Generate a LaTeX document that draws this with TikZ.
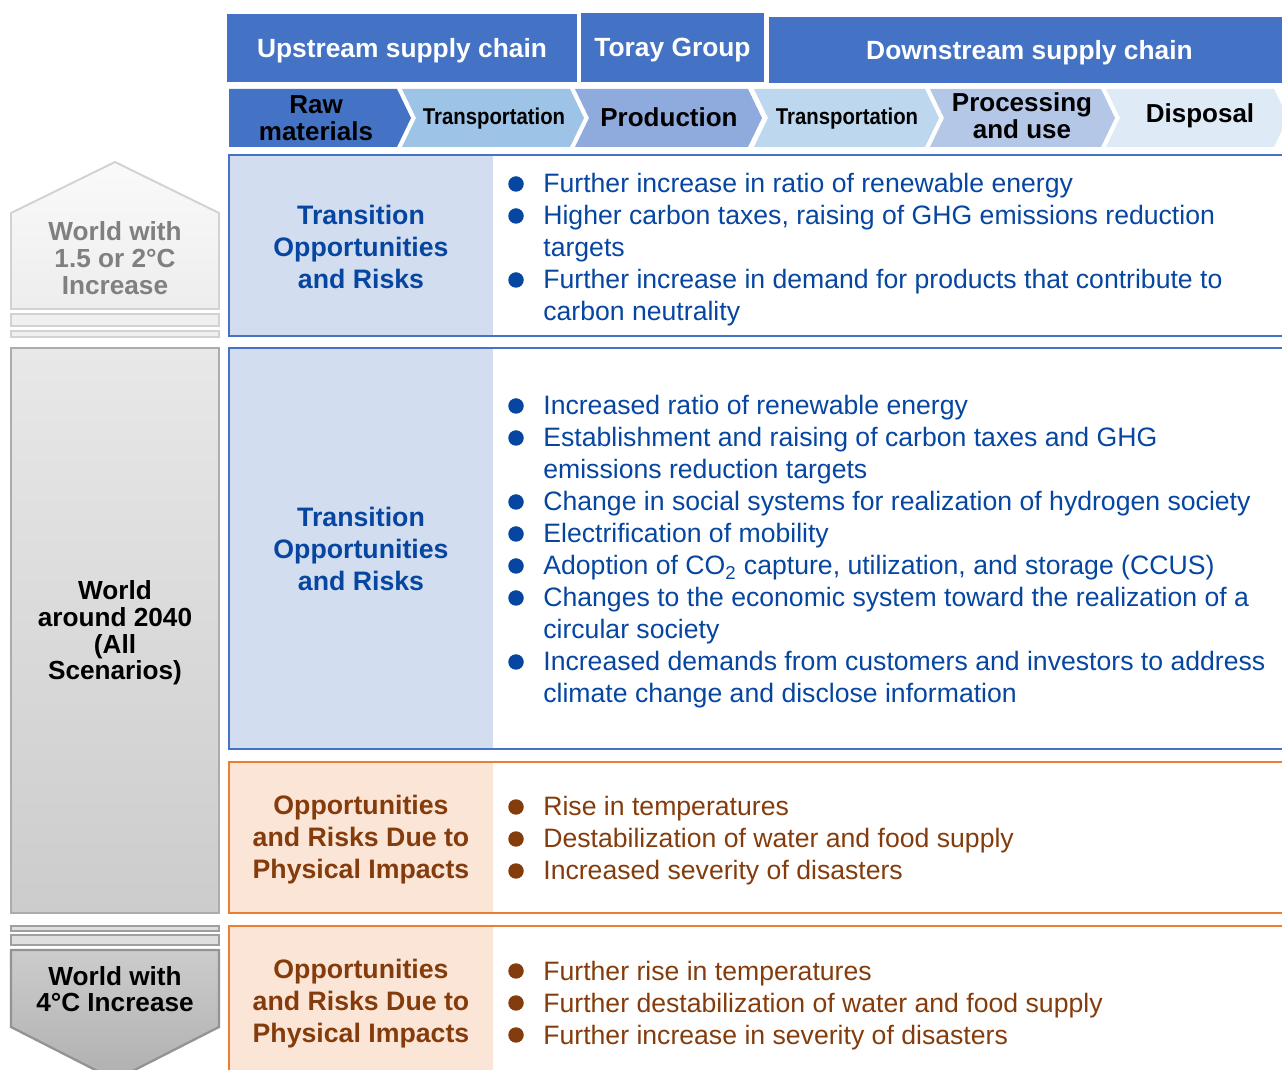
\documentclass[tikz,border=0pt]{standalone}
\usepackage{fontspec}
\setmainfont{Liberation Sans}
\usepackage{tikz}
\usepackage{graphicx}

\definecolor{headblue}{RGB}{68,114,196}
\definecolor{itemblue}{RGB}{6,70,160}
\definecolor{transfill}{RGB}{210,222,239}
\definecolor{physline}{RGB}{237,125,49}
\definecolor{physfill}{RGB}{251,229,214}
\definecolor{itembrown}{RGB}{132,60,12}
\definecolor{stageA}{RGB}{68,114,196}
\definecolor{stageB}{RGB}{157,195,230}
\definecolor{stageC}{RGB}{143,170,220}
\definecolor{stageD}{RGB}{189,215,238}
\definecolor{stageE}{RGB}{180,199,231}
\definecolor{stageF}{RGB}{222,235,247}

\begin{document}
\begin{tikzpicture}[x=0.02cm, y=-0.02cm,
                      headbox/.style={rectangle, fill=headblue, text=white, inner sep=0pt, text depth=0pt, font=\bfseries\fontsize{15}{18}\selectfont},
                      stagetext/.style={align=center, inner sep=0pt, font=\bfseries\fontsize{14.8}{15.4}\selectfont},
                      titletext/.style={align=center, inner sep=0pt, font=\bfseries\fontsize{15.2}{18.2}\selectfont},
                      itemtext/.style={anchor=base west, inner sep=0pt, font=\fontsize{15.15}{18.2}\selectfont},
                      bluedot/.style={circle, fill=itemblue, inner sep=0pt, minimum size=0.31cm},
                      browndot/.style={circle, fill=itembrown, inner sep=0pt, minimum size=0.31cm},
                      worldtext/.style={align=center, inner sep=0pt, font=\bfseries\fontsize{14.9}{15.2}\selectfont},
                      transline/.style={draw=headblue, line width=1.4pt},
                      physline/.style={draw=physline, line width=1.4pt},
                  ]
                  \useasboundingbox (0,0) rectangle (1282,1070);
                  \clip (0,0) rectangle (1282,1070);

                  % Header
                  \node[headbox, minimum width=7cm, minimum height=1.36cm]     (upstream)   at (402,48)    {Upstream supply chain};
                  \node[headbox, minimum width=3.66cm, minimum height=1.38cm]  (toray)      at (672.5,47.5) {Toray Group};
                  \node[headbox, minimum width=10.42cm, minimum height=1.32cm] (downstream) at (1029.5,50) {Downstream supply chain};

                  % Stages
                  \fill[stageA] (229,89) -- (397,89) -- (411,118) -- (397,147) -- (229,147) -- cycle;
                  \fill[stageB] (402,89) -- (570,89) -- (584,118) -- (570,147) -- (402,147) -- (416,118) -- cycle;
                  \fill[stageC] (575,89) -- (748,89) -- (762,118) -- (748,147) -- (575,147) -- (589,118) -- cycle;
                  \fill[stageD] (754,89) -- (925,89) -- (939,118) -- (925,147) -- (754,147) -- (768,118) -- cycle;
                  \fill[stageE] (930,89) -- (1101,89) -- (1115,118) -- (1101,147) -- (930,147) -- (944,118) -- cycle;
                  \fill[stageF] (1106,89) -- (1274,89) -- (1288,118) -- (1274,147) -- (1106,147) -- (1120,118) -- cycle;
                  \node[stagetext] (raw)        at (316,118)  {Raw\\materials};
                  \node[stagetext] (transport1) at (494,119)  {\fontsize{13}{15}\selectfont\scalebox{0.89}[1]{Transportation}};
                  \node[stagetext] (production) at (669,117)  {Production};
                  \node[stagetext] (transport2) at (847,119)  {\fontsize{13}{15}\selectfont\scalebox{0.89}[1]{Transportation}};
                  \node[stagetext] (processing) at (1022,116) {Processing\\and use};
                  \node[stagetext] (disposal)   at (1200,116) {Disposal};

                  % Scenario column
                  \shadedraw[top color=gray!4, bottom color=gray!14, draw=gray!35, line width=1.1pt] (11,213) -- (115,162) -- (219,213) -- (219,309) -- (11,309) -- cycle;
                  \filldraw[fill=gray!12, draw=gray!35, line width=1.1pt] (11,314) rectangle (219,326);
                  \filldraw[fill=gray!12, draw=gray!35, line width=1.1pt] (11,331) rectangle (219,337);
                  \shadedraw[top color=gray!18, bottom color=gray!40, draw=gray!65, line width=1.3pt] (11,348) rectangle (219,913);
                  \filldraw[fill=gray!25, draw=gray!75, line width=1.1pt] (11,926) rectangle (219,931);
                  \filldraw[fill=gray!25, draw=gray!75, line width=1.1pt] (11,935) rectangle (219,945);
                  \shadedraw[top color=gray!40, bottom color=gray!62, draw=gray!85, line width=1.3pt] (11,950) -- (219,950) -- (219,1027) -- (115,1080) -- (11,1027) -- cycle;
                  \node[worldtext, text=gray] (world15)   at (115,258) {World with\\1.5 or 2°C\\Increase};
                  \node[worldtext]            (world2040) at (115,633) {World\\around 2040\\(All\\Scenarios)};
                  \node[worldtext]            (world4)    at (115,989) {World with\\4°C Increase};

                  % Boxes
                  \fill[transfill] (229,155) rectangle (493,336);
                  \draw[transline] (229,155) rectangle (1300,336);
                  \fill[transfill] (229,348) rectangle (493,749);
                  \draw[transline] (229,348) rectangle (1300,749);
                  \fill[physfill] (229,762) rectangle (493,913);
                  \draw[physline] (229,762) rectangle (1300,913);
                  \fill[physfill] (229,926) rectangle (493,1100);
                  \draw[physline] (229,926) rectangle (1300,1100);

                  % Titles
                  \node[titletext, text=itemblue]  (title1) at (361,247)  {Transition\\Opportunities\\and Risks};
                  \node[titletext, text=itemblue]  (title2) at (361,549)  {Transition\\Opportunities\\and Risks};
                  \node[titletext, text=itembrown] (title3) at (361,840)  {Opportunities\\and Risks Due to\\Physical Impacts};
                  \node[titletext, text=itembrown] (title4) at (361,1004) {Opportunities\\and Risks Due to\\Physical Impacts};

                  % Items, box 1
                  \node[bluedot] (dot11) at (516,184) {};
                  \node[itemtext, text=itemblue] (item11) at (543,193) {Further increase in ratio of renewable energy};
                  \node[bluedot] (dot12) at (516,216) {};
                  \node[itemtext, text=itemblue] (item12) at (543,225) {Higher carbon taxes, raising of GHG emissions reduction};
                  \node[itemtext, text=itemblue] (item12b) at (543,257) {targets};
                  \node[bluedot] (dot13) at (516,280) {};
                  \node[itemtext, text=itemblue] (item13) at (543,289) {Further increase in demand for products that contribute to};
                  \node[itemtext, text=itemblue] (item13b) at (543,321) {carbon neutrality};

                  % Items, box 2
                  \node[bluedot] (dot21) at (516,406) {};
                  \node[itemtext, text=itemblue] (item21) at (543,415) {Increased ratio of renewable energy};
                  \node[bluedot] (dot22) at (516,438) {};
                  \node[itemtext, text=itemblue] (item22) at (543,447) {Establishment and raising of carbon taxes and GHG};
                  \node[itemtext, text=itemblue] (item22b) at (543,479) {emissions reduction targets};
                  \node[bluedot] (dot23) at (516,502) {};
                  \node[itemtext, text=itemblue] (item23) at (543,511) {Change in social systems for realization of hydrogen society};
                  \node[bluedot] (dot24) at (516,534) {};
                  \node[itemtext, text=itemblue] (item24) at (543,543) {Electrification of mobility};
                  \node[bluedot] (dot25) at (516,566) {};
                  \node[itemtext, text=itemblue] (item25) at (543,575) {Adoption of CO\textsubscript{2} capture, utilization, and storage (CCUS)};
                  \node[bluedot] (dot26) at (516,598) {};
                  \node[itemtext, text=itemblue] (item26) at (543,607) {Changes to the economic system toward the realization of a};
                  \node[itemtext, text=itemblue] (item26b) at (543,639) {circular society};
                  \node[bluedot] (dot27) at (516,662) {};
                  \node[itemtext, text=itemblue] (item27) at (543,671) {Increased demands from customers and investors to address};
                  \node[itemtext, text=itemblue] (item27b) at (543,703) {climate change and disclose information};

                  % Items, box 3
                  \node[browndot] (dot31) at (516,807) {};
                  \node[itemtext, text=itembrown] (item31) at (543,816) {Rise in temperatures};
                  \node[browndot] (dot32) at (516,839) {};
                  \node[itemtext, text=itembrown] (item32) at (543,848) {Destabilization of water and food supply};
                  \node[browndot] (dot33) at (516,871) {};
                  \node[itemtext, text=itembrown] (item33) at (543,880) {Increased severity of disasters};

                  % Items, box 4
                  \node[browndot] (dot41) at (516,971) {};
                  \node[itemtext, text=itembrown] (item41) at (543,980) {Further rise in temperatures};
                  \node[browndot] (dot42) at (516,1003) {};
                  \node[itemtext, text=itembrown] (item42) at (543,1012) {Further destabilization of water and food supply};
                  \node[browndot] (dot43) at (516,1035) {};
                  \node[itemtext, text=itembrown] (item43) at (543,1044) {Further increase in severity of disasters};
              \end{tikzpicture}
\end{document}
